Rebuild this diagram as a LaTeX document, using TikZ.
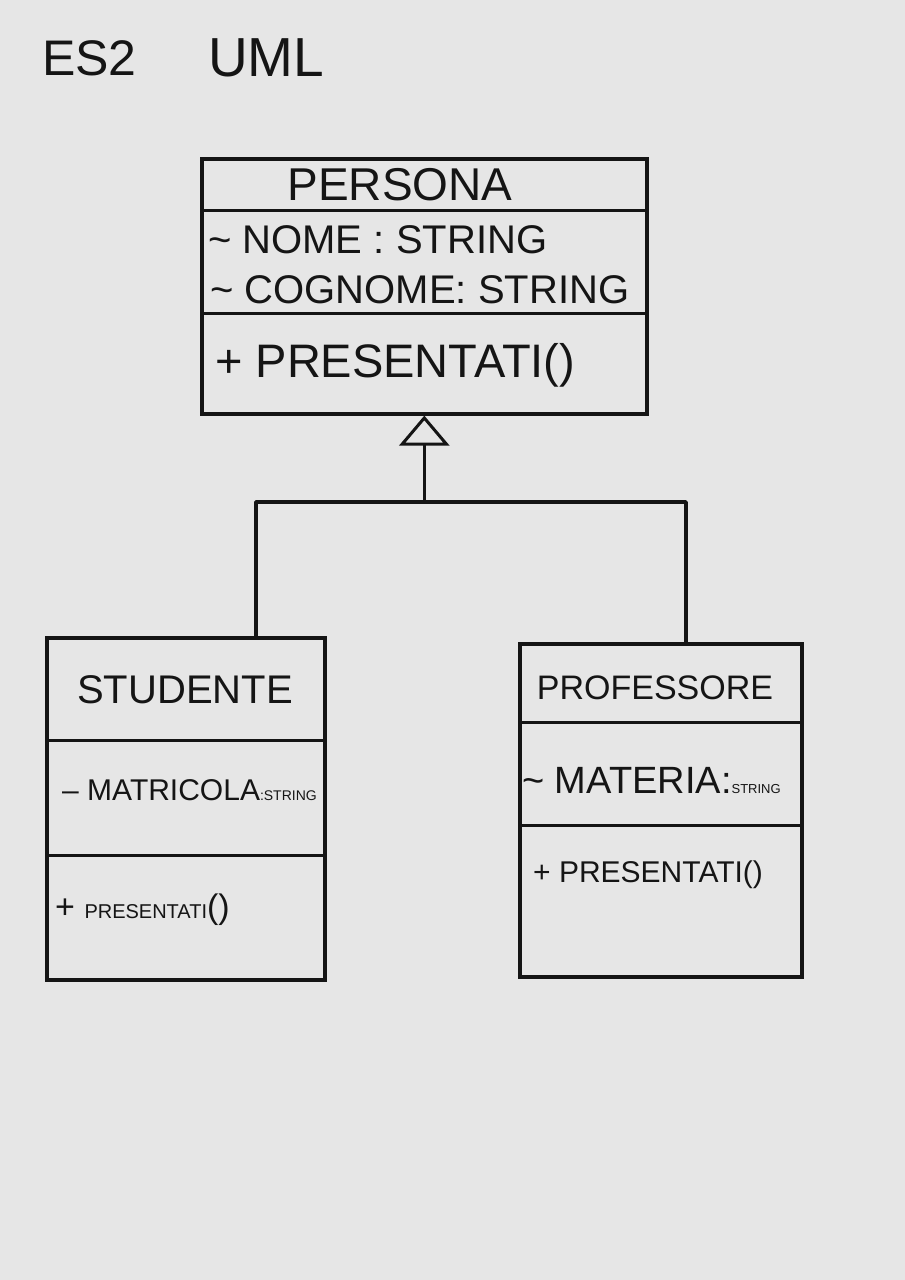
\documentclass[tikz,border=0pt]{standalone}
\usepackage{fontspec}
\setmainfont{Liberation Sans}
\usetikzlibrary{arrows.meta}
\definecolor{paper}{HTML}{E6E6E6}
\definecolor{ink}{HTML}{151515}
\newcommand{\fs}[1]{\fontsize{#1pt}{#1pt}\selectfont}
\begin{document}
\begin{tikzpicture}[x=1pt,y=-1pt,
  classbox/.style={draw=ink, line width=3.6pt, rectangle, anchor=north west, inner sep=0pt},
  divider/.style={draw=ink, line width=3pt},
  hw/.style={text=ink, inner sep=0pt, font=\fs{#1}},
  wire/.style={draw=ink, line width=3.6pt, line join=round},
  gen/.style={wire, -{Triangle[open, length=30pt, width=50pt, line width=3pt]}}
]
% page
\fill[paper] (0,0) rectangle (905,1280);
\useasboundingbox (0,0) rectangle (905,1280);

% heading
\node[hw=50, anchor=west] (es) at (42,58) {ES2};
\node[hw=55, anchor=west] (uml) at (208,58) {UML};

% class Persona
\node[classbox, minimum width=445pt, minimum height=255pt] (persona) at (200,157) {};
\draw[divider] (200,210) -- (645,210);
\draw[divider] (200,313) -- (645,313);
\node[hw=46] (pname) at (400,185) {PERSONA};
\node[hw=40, anchor=west] (pattr1) at (208,240) {\textasciitilde\ NOME : STRING};
\node[hw=40, anchor=west] (pattr2) at (210,290) {\textasciitilde\ COGNOME: STRING};
\node[hw=47, anchor=west] (pop) at (215,365) {+ PRESENTATI()};

% class Studente
\node[classbox, minimum width=278pt, minimum height=342pt] (stud) at (45,636) {};
\draw[divider] (45,740) -- (323,740);
\draw[divider] (45,855) -- (323,855);
\node[hw=40] (sname) at (185,690) {STUDENTE};
\node[hw=30, anchor=west] (sattr) at (62,790) {-- MATRICOLA{\fs{14}:STRING}};
\node[hw=34, anchor=west] (sop) at (55,910) {+ {\fs{20}PRESENTATI}()};

% class Professore
\node[classbox, minimum width=282pt, minimum height=333pt] (prof) at (518,642) {};
\draw[divider] (518,722) -- (800,722);
\draw[divider] (518,825) -- (800,825);
\node[hw=34] (prname) at (655,688) {PROFESSORE};
\node[hw=38, anchor=west] (prattr) at (522,780) {\textasciitilde\ MATERIA:{\fs{13}STRING}};
\node[hw=30, anchor=west] (prop) at (533,875) {+ PRESENTATI()};

% generalisation: both subclasses inherit from Persona
\coordinate (hub) at (persona.south |- 0,502);
\coordinate (lbend) at (256,502);
\coordinate (rbend) at (686,502);
\draw[gen] (hub) -- (persona.south);
\draw[wire] (stud.north -| lbend) -- (lbend) -- (rbend) -- (prof.north -| rbend);
\end{tikzpicture}
\end{document}
